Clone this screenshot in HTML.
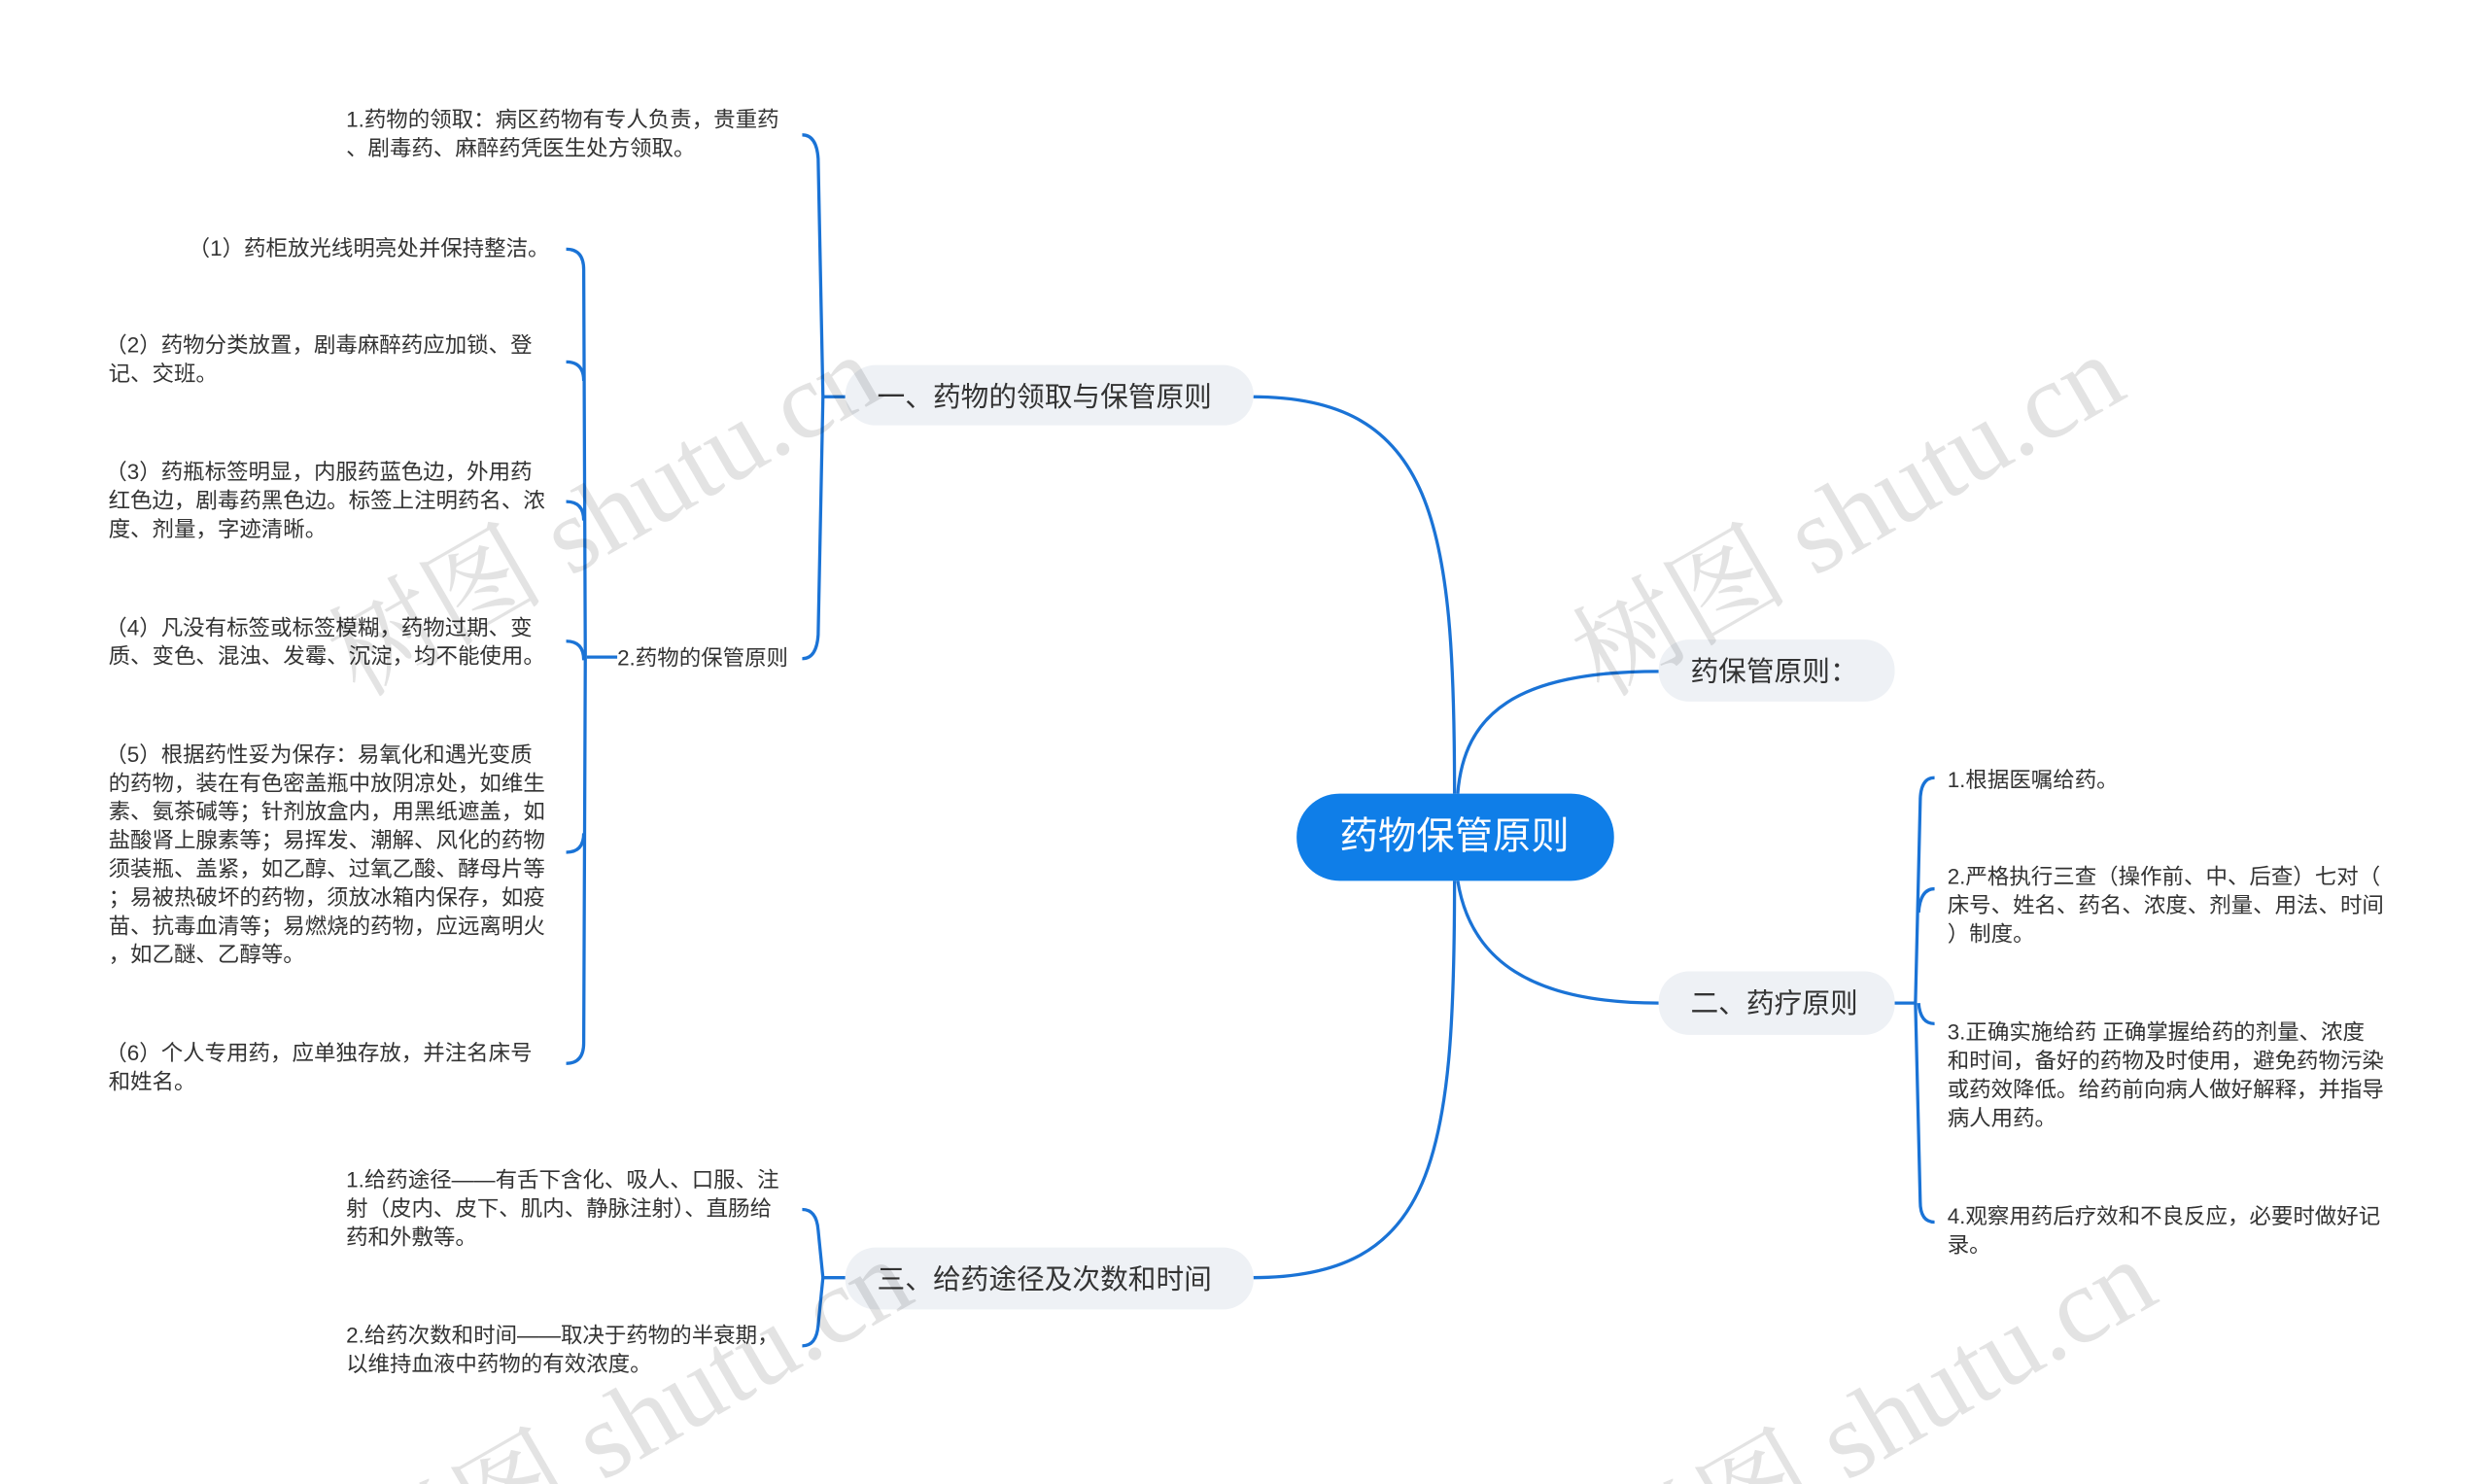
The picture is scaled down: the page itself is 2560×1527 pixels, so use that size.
<!DOCTYPE html>
<html><head><meta charset="utf-8"><style>
html,body{margin:0;padding:0;background:#fff;width:2560px;height:1527px;overflow:hidden;}
svg{display:block;}
text{font-family:"Liberation Sans","Noto Sans CJK SC",sans-serif;fill:#333;}
.s{font-size:13.7px;}
.m{font-size:17.5px;}
.wm{font-family:"Liberation Serif","Noto Serif CJK SC",serif;font-size:68px;fill:#000;fill-opacity:0.11;}
</style></head><body>
<svg width="2560" height="1527" viewBox="0 0 1560 935" preserveAspectRatio="none" xmlns="http://www.w3.org/2000/svg">
<g fill="none" stroke="#1a73d6" stroke-width="2">
<path d="M912,500 C912,330 900,250 785,250"/>
<path d="M912,555 C912,730 900,805 785,805"/>
<path d="M914,500 C918,450 950,423 1040,423"/>
<path d="M914,555 C922,605 960,632 1040,632"/>
<path d="M530,250 H516"/>
<path d="M503,85 Q512,85 513,100 L516,250 L513,400 Q512,415 503,415"/>
<path d="M387,414 H368"/>
<path d="M355,157 Q366,157 366,170 L367,414 L366,657 Q366,670 355,670"/>
<path d="M355,228 Q366,228 366,240"/>
<path d="M355,316 Q366,316 366,328"/>
<path d="M355,404 Q366,404 366,416"/>
<path d="M355,537 Q366,537 366,525"/>
<path d="M530,805 H516"/>
<path d="M503,762 Q512,762 513,775 L516,805 L513,835 Q512,848 503,848"/>
<path d="M1188,632 H1201"/>
<path d="M1213,490 Q1204,490 1204,505 L1201,632 L1204,757 Q1204,770 1213,770"/>
<path d="M1213,560 Q1204,560 1203,575"/>
<path d="M1213,645 Q1204,645 1203,632"/>
</g>
<rect x="813" y="500" width="199" height="55" rx="27" fill="#0f7ee8"/>
<text x="912" y="535" text-anchor="middle" style="font-size:24px;fill:#fff">药物保管原则</text>
<rect x="530" y="230" width="256" height="38" rx="19" fill="#eef1f5"/>
<text class="m" x="550" y="256">一、药物的领取与保管原则</text>
<rect x="1040" y="403" width="148" height="39" rx="19" fill="#eef1f5"/>
<text class="m" x="1060" y="429">药保管原则：</text>
<rect x="1040" y="612" width="148" height="40" rx="19" fill="#eef1f5"/>
<text class="m" x="1060" y="638">二、药疗原则</text>
<rect x="530" y="786" width="256" height="39" rx="19" fill="#eef1f5"/>
<text class="m" x="550" y="812">三、给药途径及次数和时间</text>
<g class="s">
<text x="217" y="80">1.药物的领取：病区药物有专人负责，贵重药</text>
<text x="217" y="98">、剧毒药、麻醉药凭医生处方领取。</text>
<text x="387" y="419">2.药物的保管原则</text>
<text x="118" y="161">（1）药柜放光线明亮处并保持整洁。</text>
<text x="66" y="222">（2）药物分类放置，剧毒麻醉药应加锁、登</text>
<text x="68" y="240">记、交班。</text>
<text x="66" y="302">（3）药瓶标签明显，内服药蓝色边，外用药</text>
<text x="68" y="320">红色边，剧毒药黑色边。标签上注明药名、浓</text>
<text x="68" y="338">度、剂量，字迹清晰。</text>
<text x="66" y="400">（4）凡没有标签或标签模糊，药物过期、变</text>
<text x="68" y="418">质、变色、混浊、发霉、沉淀，均不能使用。</text>
<text x="66" y="480">（5）根据药性妥为保存：易氧化和遇光变质</text>
<text x="68" y="498">的药物，装在有色密盖瓶中放阴凉处，如维生</text>
<text x="68" y="516">素、氨茶碱等；针剂放盒内，用黑纸遮盖，如</text>
<text x="68" y="534">盐酸肾上腺素等；易挥发、潮解、风化的药物</text>
<text x="68" y="552">须装瓶、盖紧，如乙醇、过氧乙酸、酵母片等</text>
<text x="68" y="570">；易被热破坏的药物，须放冰箱内保存，如疫</text>
<text x="68" y="588">苗、抗毒血清等；易燃烧的药物，应远离明火</text>
<text x="68" y="606">，如乙醚、乙醇等。</text>
<text x="66" y="668">（6）个人专用药，应单独存放，并注名床号</text>
<text x="68" y="686">和姓名。</text>
<text x="217" y="748">1.给药途径——有舌下含化、吸人、口服、注</text>
<text x="217" y="766">射（皮内、皮下、肌内、静脉注射）、直肠给</text>
<text x="217" y="784">药和外敷等。</text>
<text x="217" y="846">2.给药次数和时间——取决于药物的半衰期，</text>
<text x="217" y="864">以维持血液中药物的有效浓度。</text>
<text x="1221" y="496">1.根据医嘱给药。</text>
<text x="1221" y="557">2.严格执行三查（操作前、中、后查）七对（</text>
<text x="1221" y="575">床号、姓名、药名、浓度、剂量、用法、时间</text>
<text x="1221" y="593">）制度。</text>
<text x="1221" y="655">3.正确实施给药 正确掌握给药的剂量、浓度</text>
<text x="1221" y="673">和时间，备好的药物及时使用，避免药物污染</text>
<text x="1221" y="691">或药效降低。给药前向病人做好解释，并指导</text>
<text x="1221" y="709">病人用药。</text>
<text x="1221" y="771">4.观察用药后疗效和不良反应，必要时做好记</text>
<text x="1221" y="789">录。</text>
</g>
<text class="wm" transform="translate(225,440) rotate(-30)">树图 shutu.cn</text>
<text class="wm" transform="translate(1005,440) rotate(-30)">树图 shutu.cn</text>
<text class="wm" transform="translate(245,1010) rotate(-30)">树图 shutu.cn</text>
<text class="wm" transform="translate(1025,1010) rotate(-30)">树图 shutu.cn</text>
</svg>
</body></html>
